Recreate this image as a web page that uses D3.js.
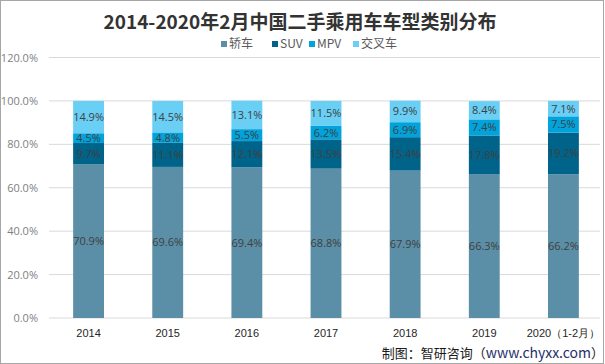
<!DOCTYPE html>
<html><head><meta charset="utf-8">
<script src="https://cdn.jsdelivr.net/npm/d3@7/dist/d3.min.js"></script>
<style>
body{margin:0;background:#fff;}
svg{display:block;font-family:"Noto Sans CJK SC","Noto Sans",sans-serif;}
</style></head>
<body>
<script>
const categories = ["2014","2015","2016","2017","2018","2019","2020（1-2月）"];
const seriesNames = ["轿车","SUV","MPV","交叉车"];
const sedan = [70.9,69.6,69.4,68.8,67.9,66.3,66.2];
const suv = [9.7,11.1,12.1,13.5,15.4,17.8,19.2];
const mpv = [4.5,4.8,5.5,6.2,6.9,7.4,7.5];
const crossover = [14.9,14.5,13.1,11.5,9.9,8.4,7.1];
const yTicks = [0,20,40,60,80,100,120];
const colors = ["#5b8fa7","#006389","#00a3db","#69cff5"];

const W=605,H=364;
const svg=d3.select("body").append("svg").attr("width",W).attr("height",H);
svg.append("rect").attr("x",0.5).attr("y",0.5).attr("width",W-2).attr("height",H-1)
  .attr("fill","#fff").attr("stroke","#a6a6a6");

const m={left:49,right:603,top:57.5,bottom:318};
const x=d3.scaleBand().domain(categories).range([m.left,m.right]).paddingInner(0.61).paddingOuter(0.305);
const y=d3.scaleLinear().domain([0,120]).range([m.bottom,m.top]);

// gridlines
svg.append("g").selectAll("line").data(yTicks).join("line")
  .attr("x1",m.left).attr("x2",600).attr("y1",d=>y(d)).attr("y2",d=>y(d))
  .attr("stroke","#d9d9d9").attr("stroke-width",1);

// y labels
const yAxis=d3.axisLeft(y).tickValues(yTicks).tickFormat(d=>d.toFixed(1)+"%").tickSize(0).tickPadding(0);
const ya=svg.append("g").attr("transform",`translate(38,0)`).call(yAxis);
ya.select(".domain").remove();
ya.selectAll("text").attr("fill","#7f7f7f").style("font-size","11px").style("font-family","Open Sans, sans-serif");

// stacked data
const rows=categories.map((c,i)=>({cat:c,"轿车":sedan[i],"SUV":suv[i],"MPV":mpv[i],"交叉车":crossover[i]}));
const stack=d3.stack().keys(seriesNames)(rows);

const g=svg.append("g");
stack.forEach((s,si)=>{
  g.append("g").selectAll("rect").data(s).join("rect")
    .attr("x",d=>x(d.data.cat)).attr("width",x.bandwidth())
    .attr("y",d=>y(d[1])).attr("height",d=>y(d[0])-y(d[1]))
    .attr("fill",colors[si]);
});
stack.forEach((s,si)=>{
  g.append("g").selectAll("text").data(s).join("text")
    .attr("x",d=>x(d.data.cat)+x.bandwidth()/2)
    .attr("y",d=>(y(d[0])+y(d[1]))/2)
    .attr("dy","0.36em").attr("text-anchor","middle")
    .attr("fill","#404040").style("font-size","11px").style("font-family","Open Sans, sans-serif")
    .text(d=>(d[1]-d[0]).toFixed(1)+"%");
});

// x labels
const xAxis=d3.axisBottom(x).tickSize(0).tickPadding(0);
const xa=svg.append("g").attr("transform",`translate(0,${m.bottom+15})`).call(xAxis);
xa.select(".domain").remove();
xa.selectAll("text").attr("fill","#262626").style("font-size","11px").attr("dy","0.35em");

// title
svg.append("text").attr("x",300).attr("y",29).attr("text-anchor","middle")
  .attr("fill","#333").style("font-size","19px").style("font-weight","bold")
  .text("2014-2020年2月中国二手乘用车车型类别分布");

// legend
const legX=[221,272,309,353];
const lg=svg.append("g");
seriesNames.forEach((n,i)=>{
  lg.append("rect").attr("x",legX[i]).attr("y",41).attr("width",6).attr("height",6).attr("fill",colors[i]);
  lg.append("text").attr("x",legX[i]+8).attr("y",44).attr("dy","0.36em")
    .attr("fill","#595959").style("font-size","12px").text(n);
});

// footer
const ft=svg.append("text").attr("x",604).attr("y",358).attr("text-anchor","end")
  .style("font-size","13px").attr("fill","#1a1a1a");
ft.append("tspan").text("制图：智研咨询（");
ft.append("tspan").attr("fill","#1f2f6b").style("font-size","14px").text("www.chyxx.com");
ft.append("tspan").text("）");
</script>
</body></html>
